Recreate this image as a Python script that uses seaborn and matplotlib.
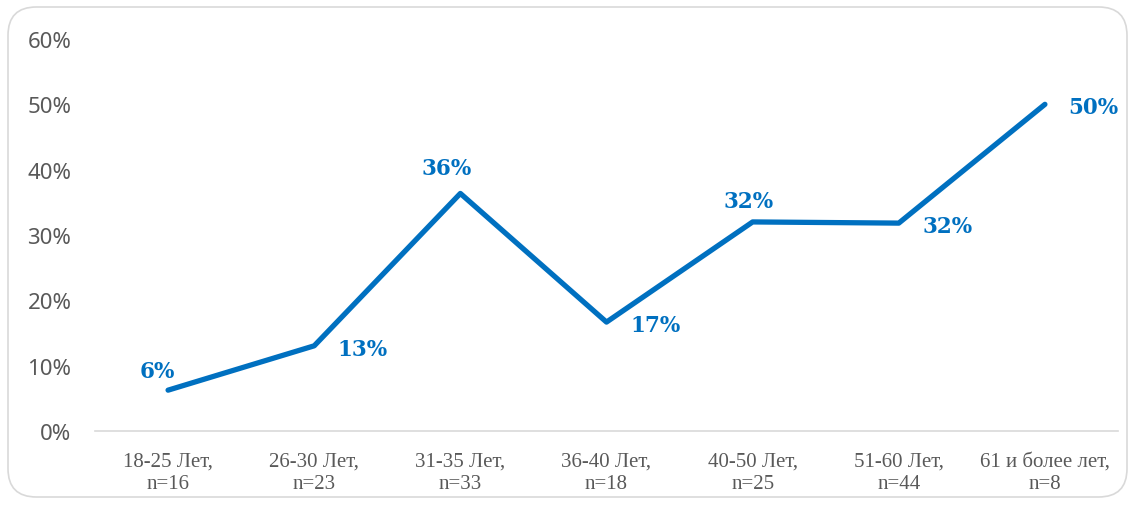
import matplotlib
matplotlib.use("Agg")
import matplotlib.pyplot as plt
import seaborn as sns
import pandas as pd
from matplotlib.patches import FancyBboxPatch

categories = ["18-25 Лет,\nn=16", "26-30 Лет,\nn=23", "31-35 Лет,\nn=33", "36-40 Лет,\nn=18",
              "40-50 Лет,\nn=25", "51-60 Лет,\nn=44", "61 и более лет,\nn=8"]
values = [6.25, 13.04, 36.36, 16.67, 32.0, 31.82, 50.0]
labels = ["6%", "13%", "36%", "17%", "32%", "32%", "50%"]
y_ticks = [0, 10, 20, 30, 40, 50, 60]

# label offsets in points (style only)
offsets = [(-8, 14), (35, -2), (-10, 18), (35, -2), (-3, 15), (35, -2), (35, -2)]

sns.set_theme(style="white")
W, H = 1135, 506
fig = plt.figure(figsize=(W / 100, H / 100), dpi=100)
fig.patch.set_facecolor("white")

frame = FancyBboxPatch((8 / W, 8 / H), (W - 16) / W, (H - 16) / H,
                       boxstyle="round,pad=0,rounding_size=0.025",
                       transform=fig.transFigure, facecolor="none",
                       edgecolor="#d9d9d9", linewidth=1.2, zorder=-5,
                       mutation_aspect=W / H)
fig.patches.append(frame)

ax = fig.add_axes([95 / W, (H - 432) / H, (1118 - 95) / W, (432 - 40) / H])
ax.set_facecolor("none")

df = pd.DataFrame({"cat": categories, "val": values})
sns.lineplot(data=df, x="cat", y="val", ax=ax, color="#0070C0", linewidth=3.8,
             sort=False, solid_capstyle="round")

ax.set_xlim(-0.5, len(categories) - 0.5)
ax.set_ylim(0, 60)
ax.set_yticks(y_ticks)
ax.set_yticklabels([f"{t}%" for t in y_ticks], fontsize=16, color="#595959",
                   family=["Noto Sans", "DejaVu Sans"])
ax.set_xticks(range(len(categories)))
ax.set_xticklabels(categories, fontsize=15, color="#595959",
                   family=["Liberation Serif", "DejaVu Serif"], linespacing=1.25)
ax.tick_params(axis="y", length=0, pad=17)
ax.tick_params(axis="x", length=0, pad=15)
ax.set_xlabel("")
ax.set_ylabel("")
for s in ["top", "right", "left"]:
    ax.spines[s].set_visible(False)
ax.spines["bottom"].set_color("#d9d9d9")
ax.spines["bottom"].set_linewidth(1.2)
ax.grid(False)

for i, (v, lab, off) in enumerate(zip(values, labels, offsets)):
    ax.annotate(lab, (i, v), xytext=off, textcoords="offset points",
                ha="center", va="center", fontsize=15.5, fontweight="bold",
                color="#0070C0", family=["DejaVu Serif"])

fig.savefig("out.png", dpi=100, facecolor="white")
